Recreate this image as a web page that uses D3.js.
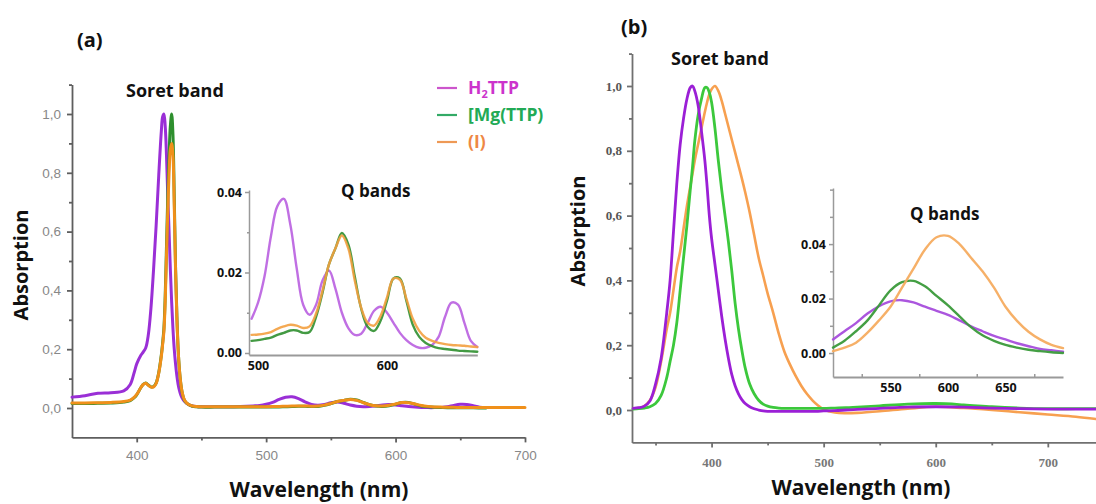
<!DOCTYPE html>
<html><head><meta charset="utf-8">
<script src="https://cdn.jsdelivr.net/npm/d3@7"></script>
<style>body{margin:0;background:#fff}svg{display:block}</style>
</head><body>
<svg id="c" width="1096" height="504"></svg>
<script>
// ---------- Panel (a): main spectra ----------
const aWave = [350,360,370,380,390,395,398,400,403,405,407,409,411,413,415,417,419,420,421,422,423,424,425,426,427,428,429,430,431,432,433,434,435,437,440,443,446,450,460,470,480,490,495,500,505,510,515,520,525,530,535,540,545,550,555,560,565,570,575,580,585,590,595,600,605,610,615,620,625,630,635,640,645,650,655,660,665,670,680,690,700];
const aH2TTP = [.037,.042,.05,.052,.058,.08,.12,.15,.178,.19,.205,.25,.34,.47,.62,.79,.94,.99,1.0,.96,.86,.72,.6,.47,.36,.27,.2,.15,.11,.08,.06,.045,.035,.022,.012,.007,.005,.004,.004,.004,.005,.007,.0085,.0125,.019,.029,.0365,.0383,.032,.021,.012,.0095,.012,.018,.0205,.016,.010,.0062,.0045,.0048,.0075,.0105,.0115,.010,.0075,.005,.0032,.002,.0013,.0013,.002,.004,.009,.0125,.012,.0075,.003,.0015,null,null,null];
const aMgTTP = [.015,.015,.016,.017,.02,.025,.035,.045,.068,.08,.085,.078,.072,.073,.085,.12,.18,.22,.27,.38,.55,.72,.86,.96,1.0,.93,.72,.48,.32,.2,.13,.085,.055,.025,.012,.006,.004,.003,.003,.003,.003,.003,.003,.0032,.0035,.0038,.0045,.005,.0056,.0056,.005,.0052,.009,.015,.022,.026,.0298,.027,.019,.011,.0065,.0055,.008,.013,.0185,.0185,.013,.007,.004,.0025,.0017,.0012,.001,.0008,.0006,.0005,.0004,.0003,null,null,null];
const aCompI = [.017,.017,.018,.019,.022,.027,.036,.046,.068,.08,.084,.077,.071,.072,.084,.118,.175,.215,.26,.36,.52,.67,.8,.88,.9,.86,.69,.47,.31,.2,.13,.085,.056,.026,.012,.007,.005,.0045,.0045,.0045,.0045,.0045,.0045,.0046,.0048,.0052,.006,.0066,.007,.0068,.0062,.0066,.0098,.0155,.022,.026,.0292,.026,.018,.0112,.0075,.0068,.0092,.0138,.0185,.0182,.0135,.0085,.0055,.0038,.003,.0025,.0022,.002,.0019,.0018,.0016,.0015,.0015,.0015,.0015];

// ---------- Panel (b): main spectra ----------
const bWave = [330,335,340,345,350,355,360,363,366,369,372,375,378,381,383,385,388,391,394,396,398,400,403,406,409,412,415,418,421,424,427,430,434,438,442,446,450,455,460,465,470,475,480,485,490,495,500,510,520,530,550,575,600,625,650,675,700,725,743];
const bH2TTP = [.005,.007,.012,.028,.08,.16,.3,.4,.55,.7,.82,.9,.96,.995,1.0,.985,.94,.86,.77,.69,.6,.53,.45,.37,.29,.22,.16,.11,.075,.05,.032,.02,.01,.004,0,-.003,-.004,-.004,-.004,-.004,-.004,-.004,-.004,-.004,-.004,-.004,-.003,-.002,0,.002,.005,.009,.01,.009,.006,.004,.003,.003,.003];
const bMgTTP = [.003,.004,.006,.01,.02,.045,.1,.15,.2,.27,.37,.47,.57,.68,.75,.83,.91,.96,.995,.995,.98,.95,.87,.77,.68,.6,.52,.43,.33,.25,.185,.13,.08,.05,.03,.018,.012,.008,.006,.005,.005,.005,.005,.005,.005,.005,.005,.006,.007,.009,.013,.018,.02,.016,.01,.006,.004,.004,.004];
const bCompI = [.004,.006,.012,.03,.07,.15,.25,.3,.37,.44,.49,.56,.63,.69,.73,.77,.82,.87,.92,.95,.975,.99,1.0,.985,.955,.915,.875,.835,.795,.755,.715,.672,.61,.54,.47,.415,.36,.3,.235,.18,.14,.105,.075,.05,.03,.014,.002,-.008,-.01,-.009,-.004,.004,.01,.006,0,-.007,-.014,-.021,-.028];

// ---------- Panel (b): Q-band inset ----------
const bqWave = [500,510,520,530,540,550,560,570,580,590,600,610,620,630,640,650,660,670,680,690,700];
const bqH2TTP = [.005,.008,.011,.0145,.0172,.019,.0194,.0186,.017,.0155,.014,.012,.0098,.008,.0063,.005,.0036,.0025,.0015,.001,.0005];
const bqMgTTP = [.002,.0045,.008,.012,.0175,.023,.026,.0265,.0245,.021,.0175,.0135,.0095,.0065,.0045,.003,.002,.0012,.0007,.0003,0];
const bqCompI = [.0007,.002,.0038,.0075,.012,.017,.024,.031,.038,.0425,.043,.04,.035,.03,.024,.017,.0118,.0078,.005,.003,.0018];

// ---------- Tick labels ----------
const mainYTicks = [0,0.2,0.4,0.6,0.8,1.0];
const mainYLabels = ["0,0","0,2","0,4","0,6","0,8","1,0"];
const mainYMinor = [0.1,0.3,0.5,0.7,0.9,1.1];
const aXTicks = [400,500,600,700];
const aXMinor = [450,550,650];
const bXTicks = [400,500,600,700];
const bXMinor = [350,450,550,650];
const insetYTicks = [0,0.02,0.04];
const insetYLabels = ["0.00","0.02","0.04"];
const aqXTicks = [500,600];
const bqXTicks = [550,600,650];
const bqXMinor = [525,575,625,675];
const bqYMinor = [0.01,0.03,0.05,0.06];
const aqYMinor = [0.01,0.03];

const svg = d3.select("#c");
const FONT = "'Open Sans', sans-serif";

function zip(w, v){ return w.map((x,i)=>[x, v[i]]); }
function drawLine(g, sx, sy, data, color, width, opacity){
  const line = d3.line().defined(d=>d[1]!=null).x(d=>sx(d[0])).y(d=>sy(d[1])).curve(d3.curveCatmullRom.alpha(0.5));
  g.append("path").attr("d", line(data)).attr("fill","none").attr("stroke",color)
    .attr("stroke-width",width).attr("stroke-linejoin","round").attr("stroke-linecap","round")
    .attr("opacity", opacity||1);
}
function styleAxis(sel, color, width, labelFill, labelFont, labelSize, labelWeight){
  sel.select(".domain").attr("stroke",color).attr("stroke-width",width);
  sel.selectAll(".tick line").attr("stroke",color).attr("stroke-width",width);
  sel.selectAll(".tick text").attr("fill",labelFill).style("font-family",labelFont)
    .style("font-size",labelSize+"px").style("font-weight",labelWeight);
}
function minorAxis(g, gen, color, width){
  const s = g.call(gen);
  s.select(".domain").remove();
  s.selectAll(".tick line").attr("stroke",color).attr("stroke-width",width);
}

// ================= Panel (a) =================
const ax = d3.scaleLinear().domain([350,700]).range([72,525]);
const ay = d3.scaleLinear().domain([-0.1,1.1]).range([437.4,84.6]);
const gA = svg.append("g");
const AC = "#5e5e5e";
const aLabFont = "'Liberation Sans', Arial, sans-serif";
styleAxis(gA.append("g").attr("transform","translate(72,0)")
  .call(d3.axisLeft(ay).tickValues(mainYTicks).tickFormat((d,i)=>mainYLabels[i]).tickSize(5).tickSizeOuter(0).tickPadding(6)),
  AC,1.8,"#888",aLabFont,13.5,400);
minorAxis(gA.append("g").attr("transform","translate(72,0)"), d3.axisLeft(ay).tickValues(mainYMinor).tickFormat("").tickSize(3), AC,1.8);
styleAxis(gA.append("g").attr("transform","translate(0,437.4)")
  .call(d3.axisBottom(ax).tickValues(aXTicks).tickFormat(d3.format("d")).tickSize(5).tickSizeOuter(0).tickPadding(8)),
  AC,1.8,"#888",aLabFont,13.5,400);
minorAxis(gA.append("g").attr("transform","translate(0,437.4)"), d3.axisBottom(ax).tickValues(aXMinor).tickFormat("").tickSize(3), AC,1.8);

const aCol = {h:"#9a2fd6", m:"#2e8f2e", c:"#f0901a"};
drawLine(gA, ax, ay, zip(aWave,aH2TTP), aCol.h, 3);
drawLine(gA, ax, ay, zip(aWave,aMgTTP), aCol.m, 3);
drawLine(gA, ax, ay, zip(aWave,aCompI), aCol.c, 3);

// Inset (a)
const aqx = d3.scaleLinear().domain([493,670]).range([249,477.3]);
const aqy = d3.scaleLinear().domain([-0.0005,0.0405]).range([355,190]);
const gAQ = svg.append("g");
const IC = "#9a9a9a";
styleAxis(gAQ.append("g").attr("transform","translate(249,0)")
  .call(d3.axisLeft(aqy).tickValues(insetYTicks).tickFormat((d,i)=>insetYLabels[i]).tickSize(4).tickSizeOuter(0).tickPadding(3)),
  IC,1.5,"#111",FONT,12.5,700);
minorAxis(gAQ.append("g").attr("transform","translate(249,0)"), d3.axisLeft(aqy).tickValues(aqYMinor).tickFormat("").tickSize(2), IC,1.5);
styleAxis(gAQ.append("g").attr("transform","translate(0,355)")
  .call(d3.axisBottom(aqx).tickValues(aqXTicks).tickFormat(d3.format("d")).tickSize(0).tickSizeOuter(0).tickPadding(6)),
  IC,1.8,"#111",FONT,12.5,700);
const inA = w => w>=495 && w<=670;
drawLine(gAQ, aqx, aqy, zip(aWave,aH2TTP).filter(d=>inA(d[0])), "#b95fe0", 2.4, 0.9);
drawLine(gAQ, aqx, aqy, zip(aWave,aMgTTP).filter(d=>inA(d[0])), "#2f8f2f", 2.4, 0.9);
drawLine(gAQ, aqx, aqy, zip(aWave,aCompI).filter(d=>inA(d[0])), "#f3a040", 2.4, 0.9);

// Texts (a)
function txt(x,y,s,size,opt){
  opt = opt||{};
  const t = svg.append("text").attr("x",x).attr("y",y).text(s)
    .style("font-family",FONT).style("font-weight",opt.weight||700).style("font-size",size+"px")
    .attr("fill",opt.fill||"#111").attr("text-anchor",opt.anchor||"start");
  if(opt.rot) t.attr("transform",`rotate(-90,${x},${y})`);
  return t;
}
txt(77,47,"(a)",20);
txt(126,97,"Soret band",18);
txt(341,197,"Q bands",17);
txt(28,265,"Absorption",20,{anchor:"middle",rot:true});
txt(319,497,"Wavelength (nm)",21,{anchor:"middle"});

// Legend
const legendNames = ["H2TTP","[Mg(TTP)","(I)"];
const legendText = ["#cc33cc","#22aa55","#ee8844"];
const legendLine = ["#cc55cc","#33aa66","#ee9955"];
const legY = [88,115,142];
legendNames.forEach((n,i)=>{
  svg.append("line").attr("x1",437).attr("x2",457).attr("y1",legY[i]).attr("y2",legY[i])
    .attr("stroke",legendLine[i]).attr("stroke-width",2.2);
  const t = svg.append("text").attr("x",468).attr("y",legY[i]+6)
    .style("font-family",FONT).style("font-weight",700).style("font-size","17.5px").attr("fill",legendText[i]);
  if(i===0){
    t.append("tspan").text("H");
    t.append("tspan").text("2").style("font-size","11px").attr("dy",4);
    t.append("tspan").text("TTP").attr("dy",-4);
  } else t.text(n);
});

// ================= Panel (b) =================
const bx = d3.scaleLinear().domain([329,743]).range([632,1096]);
const by = d3.scaleLinear().domain([-0.1,1.1]).range([442.4,53.6]);
const gB = svg.append("g");
const BC = "#707070";
const bLabFont = "'Liberation Serif', 'Times New Roman', serif";
styleAxis(gB.append("g").attr("transform","translate(632,0)")
  .call(d3.axisLeft(by).tickValues(mainYTicks).tickFormat((d,i)=>mainYLabels[i]).tickSize(5).tickSizeOuter(0).tickPadding(5)),
  BC,1.8,"#555",bLabFont,13,700);
minorAxis(gB.append("g").attr("transform","translate(632,0)"), d3.axisLeft(by).tickValues(mainYMinor).tickFormat("").tickSize(3), BC,1.8);
styleAxis(gB.append("g").attr("transform","translate(0,442.4)")
  .call(d3.axisBottom(bx).tickValues(bXTicks).tickFormat(d3.format("d")).tickSize(5).tickSizeOuter(0).tickPadding(10)),
  BC,1.8,"#777",bLabFont,13,700);
minorAxis(gB.append("g").attr("transform","translate(0,442.4)"), d3.axisBottom(bx).tickValues(bXMinor).tickFormat("").tickSize(3), BC,1.8);

drawLine(gB, bx, by, zip(bWave,bCompI), "#f7a050", 2.6);
drawLine(gB, bx, by, zip(bWave,bMgTTP), "#3cc83c", 2.8);
drawLine(gB, bx, by, zip(bWave,bH2TTP), "#9b1fd6", 2.8);

// Inset (b)
const bqx = d3.scaleLinear().domain([500,700]).range([833,1063]);
const bqy = d3.scaleLinear().domain([-0.0088,0.0606]).range([377,188]);
const gBQ = svg.append("g");
styleAxis(gBQ.append("g").attr("transform","translate(833,0)")
  .call(d3.axisLeft(bqy).tickValues(insetYTicks).tickFormat((d,i)=>insetYLabels[i]).tickSize(4).tickSizeOuter(0).tickPadding(3)),
  IC,1.5,"#111",FONT,12.5,700);
minorAxis(gBQ.append("g").attr("transform","translate(833,0)"), d3.axisLeft(bqy).tickValues(bqYMinor).tickFormat("").tickSize(3), IC,1.5);
styleAxis(gBQ.append("g").attr("transform","translate(0,377)")
  .call(d3.axisBottom(bqx).tickValues(bqXTicks).tickFormat(d3.format("d")).tickSize(0).tickSizeOuter(0).tickPadding(6)),
  IC,1.8,"#111",FONT,12.5,700);
minorAxis(gBQ.append("g").attr("transform","translate(0,377)"), d3.axisTop(bqx).tickValues(bqXMinor).tickFormat("").tickSize(3), IC,1.5);
drawLine(gBQ, bqx, bqy, zip(bqWave,bqH2TTP), "#a64ddc", 2.4, 0.95);
drawLine(gBQ, bqx, bqy, zip(bqWave,bqMgTTP), "#3a9a3a", 2.4, 0.95);
drawLine(gBQ, bqx, bqy, zip(bqWave,bqCompI), "#f5ac60", 2.4, 0.95);

txt(621,34,"(b)",20);
txt(671,65,"Soret band",18);
txt(910,220,"Q bands",17);
txt(585,231,"Absorption",20,{anchor:"middle",rot:true});
txt(861,495,"Wavelength (nm)",21,{anchor:"middle"});
</script>
</body></html>
